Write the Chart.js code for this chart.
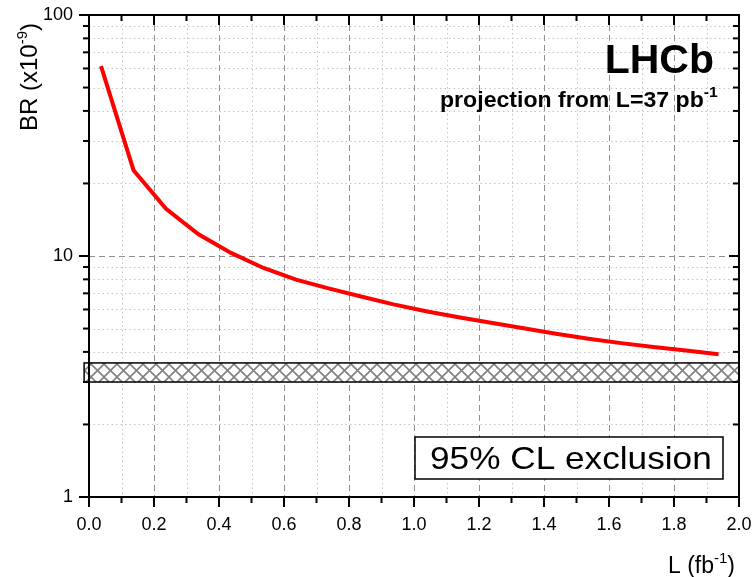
<!DOCTYPE html>
<html>
<head>
<meta charset="utf-8">
<script src="https://cdn.jsdelivr.net/npm/chart.js@4/dist/chart.umd.min.js"></script>
<style>
  html, body { margin: 0; padding: 0; background: #fff; }
  canvas { display: block; }
</style>
</head>
<body>
<canvas id="c" width="753" height="577"></canvas>
<script>
// Projected 95% CL upper limit on the branching ratio vs integrated luminosity
const lumi = [0.037, 0.137, 0.237, 0.337, 0.437, 0.537, 0.637, 0.737, 0.837, 0.937,
              1.037, 1.137, 1.237, 1.337, 1.437, 1.537, 1.637, 1.737, 1.837, 1.937];
const brLimit = [61.4, 22.7, 15.7, 12.3, 10.3, 8.92, 7.98, 7.34, 6.79, 6.30,
                 5.90, 5.57, 5.28, 5.01, 4.76, 4.54, 4.35, 4.19, 4.05, 3.91];

// Excluded region (hatched band)
const exclusionBR = [3.0, 3.6];
const exclusionL = [-0.015, 2.0];

// Axis ticks
const xTicks = [0.0, 0.2, 0.4, 0.6, 0.8, 1.0, 1.2, 1.4, 1.6, 1.8, 2.0];
const xMinorTicks = [0.1, 0.3, 0.5, 0.7, 0.9, 1.1, 1.3, 1.5, 1.7, 1.9];
const yTicks = [1, 10, 100];
const yMinorTicks = [2, 3, 4, 5, 6, 7, 8, 9, 20, 30, 40, 50, 60, 70, 80, 90];

const FONT = "'Liberation Sans', Arial, Helvetica, sans-serif";

function hatchPattern(ctx) {
  const s = 13;
  const tile = document.createElement('canvas');
  tile.width = s; tile.height = s;
  const t = tile.getContext('2d');
  t.fillStyle = '#ffffff';
  t.fillRect(0, 0, s, s);
  t.strokeStyle = '#808080';
  t.lineWidth = 1.6;
  for (const o of [-s, 0, s]) {
    t.beginPath();
    t.moveTo(o, 0); t.lineTo(o + s, s);
    t.moveTo(o + s, 0); t.lineTo(o, s);
    t.stroke();
  }
  return ctx.createPattern(tile, 'repeat');
}

// Draw a run of text pieces (supports superscripts) starting at x on baseline y,
// optionally stretched horizontally by sx
function drawRuns(ctx, runs, x, y, sx) {
  sx = sx || 1;
  ctx.save();
  ctx.translate(x, y);
  ctx.scale(sx, 1);
  let cx = 0;
  for (const r of runs) {
    ctx.font = (r.bold ? 'bold ' : '') + r.size + 'px ' + FONT;
    ctx.fillText(r.t, cx, -(r.rise || 0));
    cx += ctx.measureText(r.t).width + (r.gap || 0);
  }
  ctx.restore();
}

const framePlugin = {
  id: 'frame',
  beforeDatasetsDraw(chart) {
    const { ctx, chartArea: a, scales: { x, y } } = chart;
    ctx.save();
    ctx.beginPath();
    ctx.rect(a.left, a.top, a.right - a.left, a.bottom - a.top);
    ctx.clip();
    ctx.lineWidth = 1;
    // minor grid: dotted
    ctx.strokeStyle = '#c4c4c4';
    ctx.setLineDash([1.5, 3]);
    for (const v of xMinorTicks) {
      const px = Math.round(x.getPixelForValue(v)) + 0.5;
      ctx.beginPath(); ctx.moveTo(px, a.top); ctx.lineTo(px, a.bottom); ctx.stroke();
    }
    for (const v of yMinorTicks) {
      const py = Math.round(y.getPixelForValue(v)) + 0.5;
      ctx.beginPath(); ctx.moveTo(a.left, py); ctx.lineTo(a.right, py); ctx.stroke();
    }
    // major grid: dashed
    ctx.strokeStyle = '#909090';
    ctx.setLineDash([6, 4]);
    for (const v of xTicks) {
      const px = Math.round(x.getPixelForValue(v)) + 0.5;
      ctx.beginPath(); ctx.moveTo(px, a.top); ctx.lineTo(px, a.bottom); ctx.stroke();
    }
    for (const v of yTicks) {
      const py = Math.round(y.getPixelForValue(v)) + 0.5;
      ctx.beginPath(); ctx.moveTo(a.left, py); ctx.lineTo(a.right, py); ctx.stroke();
    }
    ctx.restore();

    // hatched exclusion band
    ctx.save();
    const bx0 = x.getPixelForValue(exclusionL[0]);
    const bx1 = x.getPixelForValue(exclusionL[1]);
    const by0 = y.getPixelForValue(exclusionBR[1]);
    const by1 = y.getPixelForValue(exclusionBR[0]);
    ctx.fillStyle = hatchPattern(ctx);
    ctx.fillRect(bx0, by0, bx1 - bx0, by1 - by0);
    ctx.strokeStyle = '#000';
    ctx.lineWidth = 1.5;
    ctx.strokeRect(bx0, by0, bx1 - bx0, by1 - by0);
    ctx.restore();
  },
  afterDatasetsDraw(chart) {
    const { ctx, chartArea: a, scales: { x, y } } = chart;
    ctx.save();
    ctx.strokeStyle = '#000';
    ctx.lineWidth = 2;
    ctx.lineCap = 'butt';
    // frame
    ctx.strokeRect(a.left, a.top, a.right - a.left, a.bottom - a.top);
    // tick marks: outward on bottom/left, inward on top/right
    const tick = (x0, y0, x1, y1) => { ctx.beginPath(); ctx.moveTo(x0, y0); ctx.lineTo(x1, y1); ctx.stroke(); };
    for (const [list, len] of [[xTicks, 10], [xMinorTicks, 6]]) {
      for (const v of list) {
        const px = x.getPixelForValue(v);
        tick(px, a.bottom, px, a.bottom + len);
        tick(px, a.top, px, a.top + len);
      }
    }
    for (const [list, len] of [[yTicks, 10], [yMinorTicks, 6]]) {
      for (const v of list) {
        const py = y.getPixelForValue(v);
        tick(a.left - len, py, a.left, py);
        tick(a.right - len, py, a.right, py);
      }
    }

    ctx.fillStyle = '#000';
    ctx.textBaseline = 'alphabetic';
    ctx.textAlign = 'left';

    // experiment label
    ctx.font = 'bold 41px ' + FONT;
    ctx.textAlign = 'right';
    ctx.fillText('LHCb', 714, 73);
    ctx.textAlign = 'left';

    drawRuns(ctx, [
      { t: 'projection from L=37 pb', size: 22, bold: true },
      { t: '-1', size: 15, bold: true, rise: 10 }
    ], 440, 107, 1.05);

    // exclusion legend box
    ctx.fillStyle = '#fff';
    ctx.fillRect(415, 437, 308, 42);
    ctx.strokeStyle = '#000';
    ctx.lineWidth = 1.5;
    ctx.strokeRect(415, 437, 308, 42);
    ctx.fillStyle = '#000';
    drawRuns(ctx, [{ t: '95% CL exclusion', size: 32 }], 430, 469, 1.1);

    // x axis title
    drawRuns(ctx, [
      { t: 'L (fb', size: 23 },
      { t: '-1', size: 15, rise: 10 },
      { t: ')', size: 23 }
    ], 668, 573);

    // y axis title
    ctx.save();
    ctx.translate(37, 131);
    ctx.rotate(-Math.PI / 2);
    drawRuns(ctx, [
      { t: 'BR (x10', size: 24 },
      { t: '-9', size: 15, rise: 10 },
      { t: ')', size: 24 }
    ], 0, 0);
    ctx.restore();

    ctx.restore();
  }
};

new Chart(document.getElementById('c'), {
  type: 'line',
  data: {
    datasets: [{
      data: lumi.map((l, i) => ({ x: l, y: brLimit[i] })),
      borderColor: '#ff0000',
      borderWidth: 4,
      pointRadius: 0,
      tension: 0,
      fill: false
    }]
  },
  options: {
    responsive: false,
    animation: false,
    devicePixelRatio: 1,
    layout: { padding: { top: 15, right: 14, left: 0, bottom: 0 } },
    plugins: { legend: { display: false }, tooltip: { enabled: false } },
    scales: {
      x: {
        type: 'linear',
        min: 0, max: 2,
        grid: { display: false, drawTicks: false },
        border: { display: false },
        afterBuildTicks: s => { s.ticks = xTicks.map(v => ({ value: v })); },
        afterFit: s => { s.height = 80; s.paddingLeft = 0; s.paddingRight = 0; },
        ticks: {
          color: '#000',
          font: { family: FONT, size: 18 },
          padding: 17,
          maxRotation: 0,
          autoSkip: false,
          callback: v => Number(v).toFixed(1)
        }
      },
      y: {
        type: 'logarithmic',
        min: 1, max: 100,
        grid: { display: false, drawTicks: false },
        border: { display: false },
        afterBuildTicks: s => { s.ticks = yTicks.map(v => ({ value: v })); },
        afterFit: s => { s.width = 89; s.paddingTop = 0; s.paddingBottom = 0; },
        ticks: {
          color: '#000',
          font: { family: FONT, size: 18 },
          padding: 16,
          autoSkip: false,
          callback: v => String(v)
        }
      }
    }
  },
  plugins: [framePlugin]
});
</script>
</body>
</html>
